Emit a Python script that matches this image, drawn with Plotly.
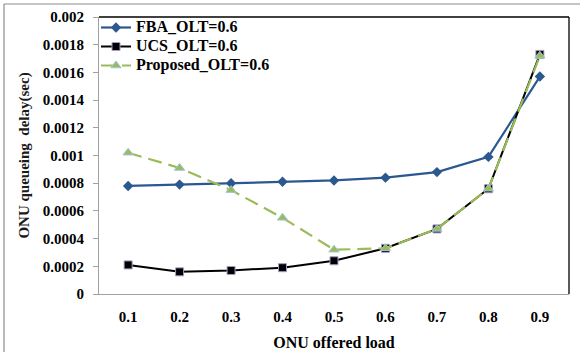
import plotly.graph_objects as go

# ONU offered load (category axis)
loads = ["0.1", "0.2", "0.3", "0.4", "0.5", "0.6", "0.7", "0.8", "0.9"]

# Queueing delay (sec) for each scheme
fba_delay = [0.00078, 0.00079, 0.00080, 0.00081, 0.00082, 0.00084, 0.00088, 0.00099, 0.00157]
ucs_delay = [0.00021, 0.00016, 0.00017, 0.00019, 0.00024, 0.00033, 0.00047, 0.00076, 0.00173]
proposed_delay = [0.00102, 0.00091, 0.00075, 0.00055, 0.00032, 0.00033, 0.00047, 0.00076, 0.00172]

y_ticks = [0, 0.0002, 0.0004, 0.0006, 0.0008, 0.001, 0.0012, 0.0014, 0.0016, 0.0018, 0.002]
y_tick_text = ["0", "0.0002", "0.0004", "0.0006", "0.0008", "0.001", "0.0012", "0.0014", "0.0016", "0.0018", "0.002"]

serif = "Liberation Serif, Times New Roman, serif"


def legend_name(text):
    return '<span style="font-size:16px"><b>%s</b></span>' % text


fig = go.Figure()

fig.add_trace(go.Scatter(
    x=loads, y=fba_delay, name=legend_name("FBA_OLT=0.6"), mode="lines+markers",
    line=dict(color="#2c5890", width=2.2),
    marker=dict(symbol="diamond", size=8, color="#2c5890"),
))
fig.add_trace(go.Scatter(
    x=loads, y=ucs_delay, name=legend_name("UCS_OLT=0.6"), mode="lines+markers",
    line=dict(color="#000000", width=2),
    marker=dict(symbol="square", size=8, color="#000000", line=dict(color="#a89ac8", width=1)),
))
fig.add_trace(go.Scatter(
    x=loads, y=proposed_delay, name=legend_name("Proposed_OLT=0.6"), mode="lines+markers",
    line=dict(color="#9bbb59", width=2.2, dash="14px,7px"),
    marker=dict(symbol="triangle-up", size=9, color="#9bbb59", line=dict(color="#9fc7d9", width=1)),
))

fig.update_layout(
    width=580, height=352,
    margin=dict(l=99, r=11, t=17, b=58, autoexpand=False),
    paper_bgcolor="white", plot_bgcolor="white",
    font=dict(family=serif, color="#000000"),
    showlegend=True,
    legend=dict(
        x=-3/470, y=1 + 4/277, xanchor="left", yanchor="top",
        bgcolor="rgba(255,255,255,0)",
        font=dict(family=serif, size=11, color="#000000"),
        itemwidth=30, tracegroupgap=0,
        borderwidth=0,
    ),
    xaxis=dict(
        type="category", showgrid=False, zeroline=False, automargin=False,
        showline=True, linecolor="#a0a0a0", linewidth=1.2,
        ticks="", tickfont=dict(family=serif, size=15, color="#000000"),
        tickprefix="<b>", ticksuffix="</b>",
        ticklabelstandoff=9,
        title=dict(text="<b>ONU offered load</b>", font=dict(family=serif, size=16, color="#000000"), standoff=12),
    ),
    yaxis=dict(
        range=[0, 0.002], tickvals=y_ticks, ticktext=["<b>%s</b>" % t for t in y_tick_text],
        showgrid=False, zeroline=False, automargin=False,
        showline=True, linecolor="#a0a0a0", linewidth=1.2,
        ticks="outside", ticklen=5, tickcolor="#a0a0a0",
        tickfont=dict(family=serif, size=15, color="#000000"),
        ticklabelstandoff=6,
        title=dict(text="<b>ONU queueing  delay(sec)</b>", font=dict(family=serif, size=15, color="#1a1a1a"), standoff=9),
    ),
)

# black border on the top and right of the plotting area
fig.add_shape(type="line", xref="paper", yref="paper", x0=0, x1=1, y0=1, y1=1,
              line=dict(color="#000000", width=1.3))
fig.add_shape(type="line", xref="paper", yref="paper", x0=1, x1=1, y0=0, y1=1,
              line=dict(color="#000000", width=1.3))

# outer chart frame (top and left edges)
fig.add_shape(type="line", xref="paper", yref="paper", x0=-95/470, x1=11/470 + 1, y0=1 + 13/277, y1=1 + 13/277,
              line=dict(color="#8c8c8c", width=1.2))
fig.add_shape(type="line", xref="paper", yref="paper", x0=-95/470, x1=-95/470, y0=-58/277, y1=1 + 13/277,
              line=dict(color="#8c8c8c", width=1.2))

fig.write_html("out.html")
